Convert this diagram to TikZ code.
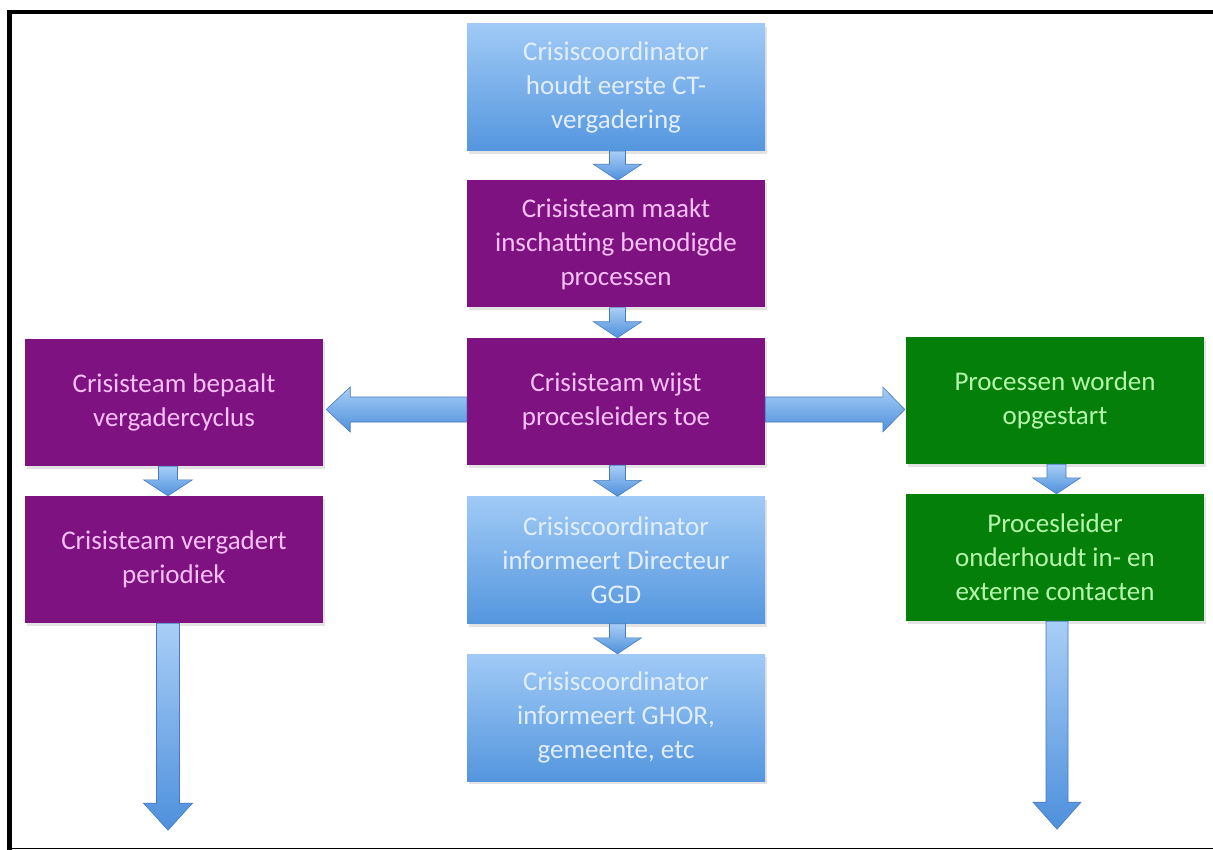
\documentclass[tikz,border=0pt]{standalone}
\usepackage{fontspec}
\setmainfont{Carlito}
\usetikzlibrary{calc,shadows}

\definecolor{boxtop}{RGB}{160,202,246}
\definecolor{boxbot}{RGB}{84,150,222}
\definecolor{bluetext}{RGB}{226,238,252}
\definecolor{plum}{RGB}{126,18,128}
\definecolor{plumtext}{RGB}{246,192,246}
\definecolor{leaf}{RGB}{4,128,10}
\definecolor{leaftext}{RGB}{182,246,172}
\definecolor{arrtop}{RGB}{168,206,246}
\definecolor{arrbot}{RGB}{78,144,220}
\definecolor{arredge}{RGB}{72,122,190}

% vertical block arrow: #1 start point, #2 tip, #3 shaft half width,
% #4 head half width, #5 head length
\newcommand\downblock[5]{%
  \shade[blockarrow] ($(#1)+(-#3,0)$) -- ($(#2)+(-#3,-#5)$) -- ($(#2)+(-#4,-#5)$)
    -- (#2) -- ($(#2)+(#4,-#5)$) -- ($(#2)+(#3,-#5)$) -- ($(#1)+(#3,0)$) -- cycle;}

\begin{document}
\begin{tikzpicture}[x=1pt,y=-1pt,
  stepbox/.style={rectangle, minimum width=298pt, minimum height=127pt,
    inner sep=0pt, align=center, font=\fontsize{27}{34}\selectfont,
    drop shadow={shadow xshift=2pt, shadow yshift=-3pt, opacity=0.22}},
  bluebox/.style={stepbox, top color=boxtop, bottom color=boxbot, text=bluetext},
  plumbox/.style={stepbox, fill=plum, text=plumtext},
  leafbox/.style={stepbox, fill=leaf, text=leaftext},
  blockarrow/.style={top color=arrtop, bottom color=arrbot, draw=arredge, line width=0.6pt},
  frameline/.style={draw=black, line cap=rect}]

\useasboundingbox (0,0) rectangle (1213,850);

% frame
\draw[frameline, line width=4.5pt] (9.5,849) -- (9.5,12) -- (1213,12);
\draw[frameline, line width=1.5pt] (9.5,848.5) -- (1213,848.5);

% middle column
\node[bluebox] (b1) at (616,87.5) {Crisiscoordinator\\houdt eerste CT-\\vergadering};
\node[plumbox] (b2) at (616,244) {Crisisteam maakt\\inschatting benodigde\\processen};
\node[plumbox] (b3) at (616,401.5) {Crisisteam wijst\\procesleiders toe};
\node[bluebox] (b4) at (616,560) {Crisiscoordinator\\informeert Directeur\\GGD};
\node[bluebox] (b5) at (616,717.5) {Crisiscoordinator\\informeert GHOR,\\gemeente, etc};

% left column
\node[plumbox] (l1) at (174,402.5) {Crisisteam bepaalt\\vergadercyclus};
\node[plumbox] (l2) at (174,559.5) {Crisisteam vergadert\\periodiek};

% right column
\node[leafbox] (r1) at (1055,400.5) {Processen worden\\opgestart};
\node[leafbox] (r2) at (1055,557.5) {Procesleider\\onderhoudt in- en\\externe contacten};

% anchor points for the arrows
\coordinate (mc) at ($(b1.south)+(1.5,0)$);
\coordinate (lc) at ($(l1.south)+(-6,0)$);
\coordinate (rc) at ($(r1.south)+(1.5,0)$);
\coordinate (lend) at ($(l2.south)+(-6,207)$);
\coordinate (rend) at ($(r2.south)+(2,208)$);
\coordinate (hl) at ($(b3.west)+(0,8)$);
\coordinate (hr) at ($(b3.east)+(0,8)$);

% short arrows in the middle column
\downblock{mc |- b1.south}{mc |- b2.north}{8}{24}{16}
\downblock{mc |- b2.south}{mc |- b3.north}{8}{24}{16}
\downblock{mc |- b3.south}{mc |- b4.north}{8}{24}{16}
\downblock{mc |- b4.south}{mc |- b5.north}{8}{24}{16}

% left and right columns
\downblock{lc |- l1.south}{lc |- l2.north}{9.5}{24.5}{16}
\downblock{rc |- r1.south}{rc |- r2.north}{9.5}{24}{16}
\downblock{lend |- l2.south}{lend}{11.5}{24.5}{27}
\downblock{rend |- r2.south}{rend}{11}{24}{27}

% horizontal arrows from the central box
\shade[blockarrow] (hl |- 0,397) -- ($(l1.east |- 0,397)+(27,0)$) -- ($(l1.east |- 0,387)+(27,0)$)
  -- ($(l1.east |- hl)+(3,0)$) -- ($(l1.east |- 0,432)+(27,0)$) -- ($(l1.east |- 0,422)+(27,0)$)
  -- (hl |- 0,422) -- cycle;
\shade[blockarrow] (hr |- 0,397) -- ($(r1.west |- 0,397)+(-23,0)$) -- ($(r1.west |- 0,387)+(-23,0)$)
  -- ($(r1.west |- hr)+(-1,0)$) -- ($(r1.west |- 0,432)+(-23,0)$) -- ($(r1.west |- 0,422)+(-23,0)$)
  -- (hr |- 0,422) -- cycle;

\end{tikzpicture}
\end{document}
